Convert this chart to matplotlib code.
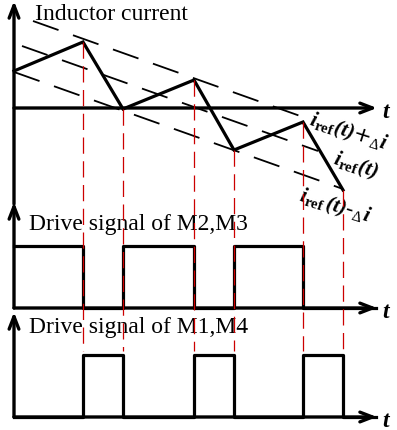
import matplotlib.pyplot as plt

plt.rcParams['mathtext.fontset'] = 'custom'
plt.rcParams['mathtext.rm'] = 'Liberation Serif'
plt.rcParams['mathtext.it'] = 'Liberation Serif:italic'
plt.rcParams['mathtext.bf'] = 'Liberation Serif:bold'
plt.rcParams['mathtext.bfit'] = 'Liberation Serif:bold:italic'

# switching instants and inductor current at each of them
t_sw = [0, 69, 109, 180, 220, 289, 329]
i_L = [37, 66, -1, 28, -42, -14, -82]

# hysteresis band: end points of the three reference lines
upper_t = [19, 289]
upper_i = [87, -9]
ref_t = [8, 304]
ref_i = [62, -43]
lower_t = [0, 329]
lower_i = [36, -81]

# gate states (1 = on) on each interval, M2/M3 and M1/M4 are complementary
gate_t = [0, 69, 109, 180, 220, 289, 329, 362]
m23 = [1, 0, 1, 0, 1, 0, 0, 0]
m14 = [0, 1, 0, 1, 0, 1, 0, 0]

# panel baselines
base_i = 0
base_23 = -200
base_14 = -309
pulse_h = 62
t_end = 363

fig = plt.figure(figsize=(3.97, 4.31), dpi=100)
ax = fig.add_axes([0, 0, 1, 1])
ax.set_xlim(-14, 383)
ax.set_ylim(-322, 109)
ax.axis('off')

serif = 'Liberation Serif'
AX_LW = 2.4


def axis_arrow(x0, y0, x1, y1):
    ax.annotate('', xy=(x1, y1), xytext=(x0, y0),
                arrowprops=dict(arrowstyle='->,head_length=0.9,head_width=0.35',
                                lw=AX_LW, color='black', shrinkA=0, shrinkB=0))


# axes
axis_arrow(0, -96, 0, 107)
axis_arrow(0, base_i, t_end, base_i)
axis_arrow(0, base_23, 0, -94)
axis_arrow(0, base_23, t_end, base_23)
axis_arrow(0, base_14, 0, -204)
axis_arrow(0, base_14, t_end, base_14)

for yb in (base_i, base_23, base_14):
    ax.text(368, yb - 2, '$\\mathbfit{t}$', fontsize=17, ha='left', va='center')

# band lines
band_style = dict(color='black', lw=1.3, linestyle=(0, (15, 8.5)))
ax.plot(upper_t, upper_i, **band_style)
ax.plot(ref_t, ref_i, **band_style)
ax.plot(lower_t, lower_i, **band_style)

# inductor current
ax.plot(t_sw, i_L, color='black', lw=2.3, solid_joinstyle='miter', zorder=4)

# gate signals
ax.step(gate_t, [base_23 + pulse_h * s for s in m23], where='post',
        color='black', lw=2.3, zorder=3)
ax.step(gate_t, [base_14 + pulse_h * s for s in m14], where='post',
        color='black', lw=2.3, zorder=3)

# switching instants
for t, i in zip(t_sw[1:], i_L[1:]):
    ax.plot([t, t], [i, base_14 + pulse_h + 4], color='#cc0000', lw=0.9,
            linestyle=(0, (13, 6)), zorder=5)

# titles
ax.text(21, 94, 'Inductor current', fontsize=17, family=serif, va='center')
ax.text(15, -116, 'Drive signal of M2,M3', fontsize=17, family=serif, va='center')
ax.text(15, -219, 'Drive signal of M1,M4', fontsize=17, family=serif, va='center')

# band labels
ax.text(334, -24, '$\\mathbfit{i}_{\\mathbf{ref}}\\mathbfit{(t)}$+$_{\\Delta}\\mathbfit{i}$',
        fontsize=15.5, rotation=-18, ha='center', va='center', rotation_mode='anchor')
ax.text(341, -57, '$\\mathbfit{i}_{\\mathbf{ref}}\\mathbfit{(t)}$',
        fontsize=15.5, rotation=-18, ha='center', va='center', rotation_mode='anchor')
ax.text(321, -98, '$\\mathbfit{i}_{\\mathbf{ref}}\\,\\mathbfit{(t)}$-$_{\\Delta}\\mathbfit{i}$',
        fontsize=15.5, rotation=-17, ha='center', va='center', rotation_mode='anchor')

fig.savefig('out.png', dpi=100)
